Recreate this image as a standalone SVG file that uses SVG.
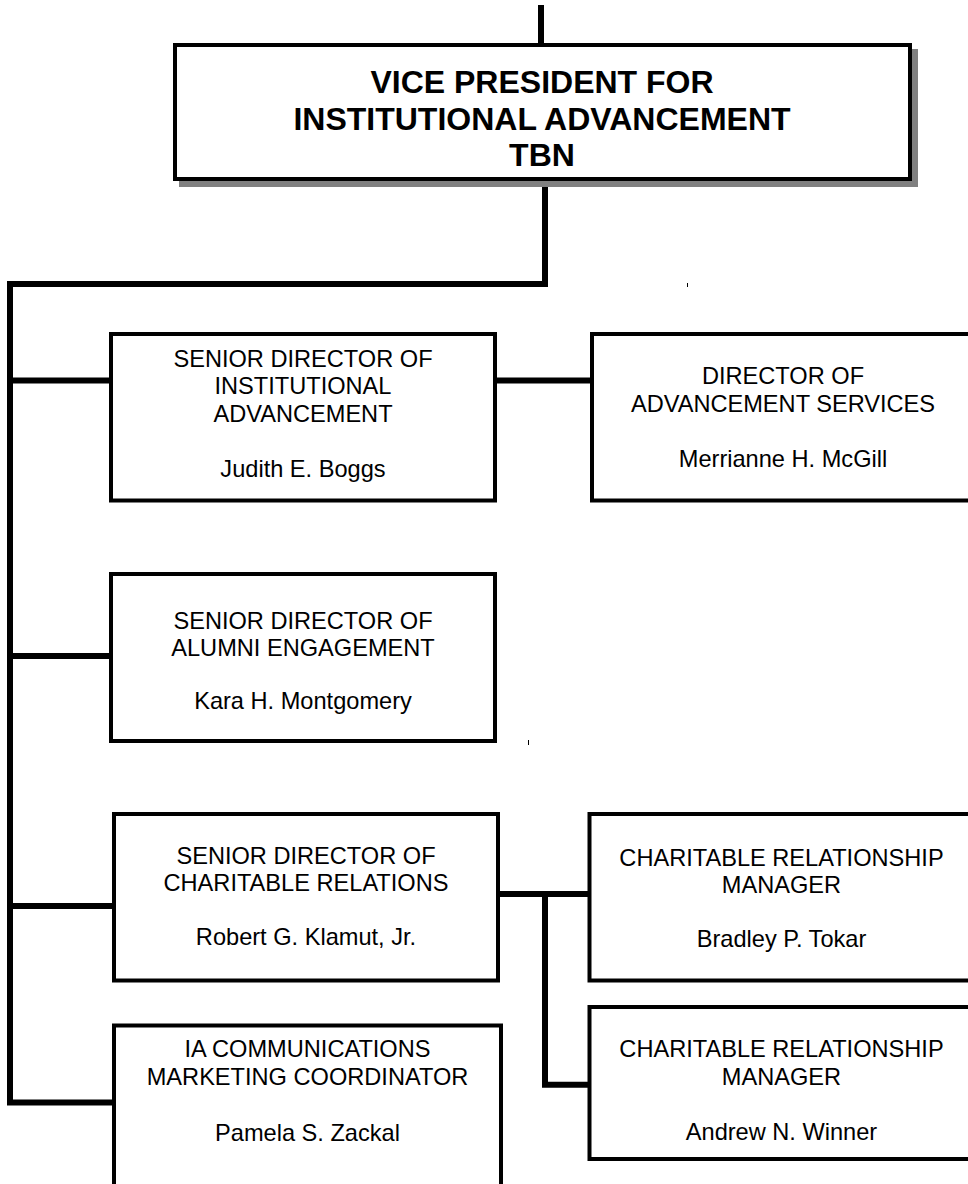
<svg xmlns="http://www.w3.org/2000/svg" width="968" height="1184" viewBox="0 0 968 1184">
<style>
.box{fill:#fff;stroke:#000;stroke-width:4}
.con{fill:none;stroke:#000;stroke-width:6;stroke-linejoin:miter;stroke-linecap:butt}
.t{font-family:"Liberation Sans",Arial,sans-serif;font-size:23.6px;fill:#000;text-anchor:middle}
.tb{font-family:"Liberation Sans",Arial,sans-serif;font-size:32px;font-weight:bold;fill:#000;text-anchor:middle}
</style>
<rect width="968" height="1184" fill="#fff"/>
<g id="connectors">
<line class="con" x1="541" y1="5" x2="541" y2="44"/>
<path class="con" d="M545,181 V284 H10 V1102.5 H114"/>
<line class="con" x1="10" y1="380.5" x2="111" y2="380.5"/>
<line class="con" x1="495" y1="380.5" x2="592" y2="380.5"/>
<line class="con" x1="10" y1="656" x2="111" y2="656"/>
<line class="con" x1="10" y1="906" x2="114" y2="906"/>
<line class="con" x1="498" y1="894" x2="589.5" y2="894"/>
<path class="con" d="M545,894 V1084.7 H589.5"/>
<line x1="687.5" y1="283" x2="687.5" y2="287" stroke="#000" stroke-width="1"/>
<line x1="528.5" y1="740" x2="528.5" y2="745" stroke="#000" stroke-width="1"/>
</g>
<g id="vp">
<rect x="179" y="49" width="739" height="138" fill="#808080"/>
<rect class="box" x="175" y="45" width="735" height="134"/>
<text class="tb" x="542" y="93">VICE PRESIDENT FOR</text>
<text class="tb" x="542" y="129.5">INSTITUTIONAL ADVANCEMENT</text>
<text class="tb" x="542" y="166">TBN</text>
</g>
<g id="sd-institutional">
<rect class="box" x="111" y="334" width="384" height="166.5"/>
<text class="t" x="303" y="366.5">SENIOR DIRECTOR OF</text>
<text class="t" x="303" y="394">INSTITUTIONAL</text>
<text class="t" x="303" y="421.5">ADVANCEMENT</text>
<text class="t" x="303" y="476.5">Judith E. Boggs</text>
</g>
<g id="dir-services">
<rect class="box" x="592" y="334" width="384" height="166.5"/>
<text class="t" x="783" y="384">DIRECTOR OF</text>
<text class="t" x="783" y="411.5">ADVANCEMENT SERVICES</text>
<text class="t" x="783" y="466.5">Merrianne H. McGill</text>
</g>
<g id="sd-alumni">
<rect class="box" x="111" y="574" width="384" height="167"/>
<text class="t" x="303" y="629">SENIOR DIRECTOR OF</text>
<text class="t" x="303" y="656">ALUMNI ENGAGEMENT</text>
<text class="t" x="303" y="709">Kara H. Montgomery</text>
</g>
<g id="sd-charitable">
<rect class="box" x="114" y="814" width="384" height="166.5"/>
<text class="t" x="306" y="863.5">SENIOR DIRECTOR OF</text>
<text class="t" x="306" y="890.5">CHARITABLE RELATIONS</text>
<text class="t" x="306" y="944.5">Robert G. Klamut, Jr.</text>
</g>
<g id="crm-tokar">
<rect class="box" x="589.5" y="814" width="384" height="166.5"/>
<text class="t" x="781.5" y="866">CHARITABLE RELATIONSHIP</text>
<text class="t" x="781.5" y="893">MANAGER</text>
<text class="t" x="781.5" y="947">Bradley P. Tokar</text>
</g>
<g id="crm-winner">
<rect class="box" x="589.5" y="1007" width="384" height="152"/>
<text class="t" x="781.5" y="1057">CHARITABLE RELATIONSHIP</text>
<text class="t" x="781.5" y="1085">MANAGER</text>
<text class="t" x="781.5" y="1140">Andrew N. Winner</text>
</g>
<g id="ia-comm">
<rect class="box" x="114" y="1025.5" width="387" height="200"/>
<text class="t" x="307.5" y="1057">IA COMMUNICATIONS</text>
<text class="t" x="307.5" y="1085">MARKETING COORDINATOR</text>
<text class="t" x="307.5" y="1141">Pamela S. Zackal</text>
</g>
</svg>
